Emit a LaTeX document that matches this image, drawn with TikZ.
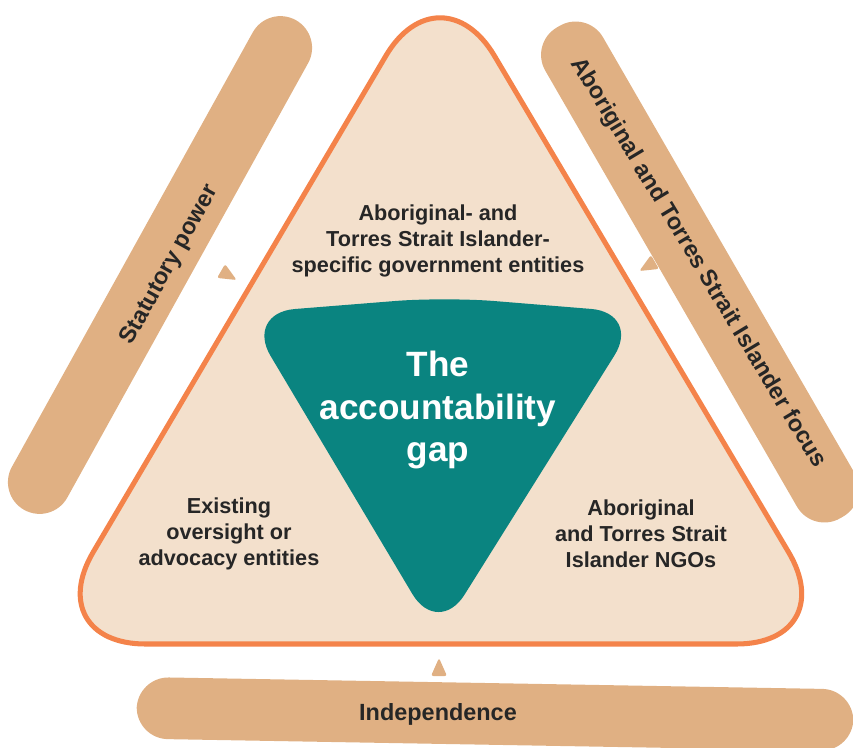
\documentclass[tikz,border=0pt]{standalone}
\usepackage{fontspec}
\setmainfont{Liberation Sans}
\usetikzlibrary{positioning}

\definecolor{rim}{HTML}{F4834A}
\definecolor{sand}{HTML}{F3E0CC}
\definecolor{tan}{HTML}{E0B083}
\definecolor{gapteal}{HTML}{0A8480}
\definecolor{ink}{HTML}{262626}

\tikzset{
  area/.style={font=\bfseries\fontsize{18.5}{22.2}\selectfont, text=ink, align=center},
  barlabel/.style={font=\bfseries\fontsize{20}{24}\selectfont, text=ink, inner sep=0pt},
  barbox/.style={fill=tan, rounded corners=0.95cm, minimum height=1.9cm, inner sep=0pt},
}

\begin{document}
\begin{tikzpicture}[x=0.03cm, y=-0.03cm]
\useasboundingbox (0,0) rectangle (853,747);

% the three bars
\node [barbox, minimum width=16.8cm, rotate=61] (powerbar) at (160,265) {};
\node [barbox, minimum width=17.0cm, minimum height=2.0cm, rotate=-60] (focusbar) at (700,272) {};
\node [barbox, minimum width=21.5cm, minimum height=1.85cm, rotate=-1] (indepbar) at (495,714) {};

\node [barlabel, rotate=61] (statutory) at (170,265) {Statutory power};
\node [barlabel, rotate=-59] (focus) at (698,263) {Aboriginal and Torres Strait Islander focus};
\node [barlabel] (independence) at (438,714) {Independence};

% small pointers
\foreach \x/\y/\a in {228/275/-120, 648/266/120, 439/668/0}
{\fill [tan, rounded corners=2pt, shift={(\x,\y)}, rotate=\a] (0,-10) -- (8,8) -- (-8,8) -- cycle;}

% main triangle
\draw [rim, line width=4.3pt, fill=sand, rounded corners=3.2cm] (440,-36) -- (39,644) -- (843,644) -- cycle;

% the gap
\fill [gapteal, rounded corners=1.5cm] (245,313) -- (445,297) -- (641,313) -- (438,637) -- cycle;
\node [font=\bfseries\fontsize{30}{36}\selectfont, text=white, align=center] (gap) at (438,410)
  {The\\accountability\\gap};

\node [area] (govt) at (438,241) {Aboriginal- and\\Torres Strait Islander-\\specific government entities};
\node [area] (oversight) at (229,534) {Existing\\oversight or\\advocacy entities};
\node [area] (ngos) at (641,534) {Aboriginal\\and Torres Strait\\Islander NGOs};

\end{tikzpicture}
\end{document}
